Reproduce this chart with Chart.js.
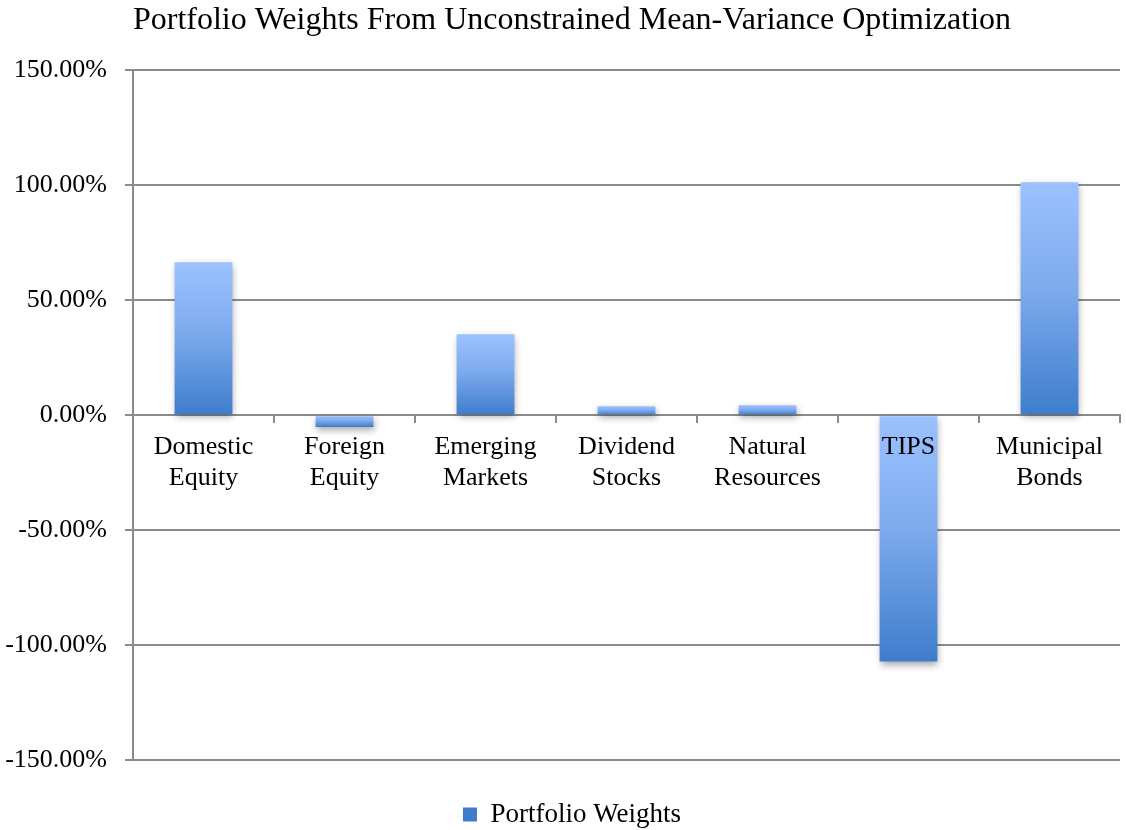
<!DOCTYPE html>
<html>
<head>
<meta charset="utf-8">
<script src="https://cdn.jsdelivr.net/npm/chart.js@4"></script>
<style>
  html, body { margin: 0; padding: 0; background: #fff; }
  #wrap { width: 1126px; height: 830px; }
</style>
</head>
<body>
<div id="wrap"><canvas id="myChart"></canvas></div>
<script>
const categories = [
  ["Domestic", "Equity"],
  ["Foreign", "Equity"],
  ["Emerging", "Markets"],
  ["Dividend", "Stocks"],
  ["Natural", "Resources"],
  ["TIPS"],
  ["Municipal", "Bonds"],
];
const weights = [0.665, -0.051, 0.352, 0.039, 0.043, -1.072, 1.013];
const seriesName = "Portfolio Weights";
const chartTitle = "Portfolio Weights From Unconstrained Mean-Variance Optimization";

const serif = "'Liberation Serif', 'Times New Roman', serif";
const gridColor = "#8b8b8b";

function barFill(context) {
  if (context.type !== "data") return "#6f9fe4";
  const chart = context.chart;
  const y = chart.scales.y;
  if (!y || !chart.chartArea) return "#6f9fe4";
  const top = y.getPixelForValue(Math.max(context.raw, 0));
  const bottom = y.getPixelForValue(Math.min(context.raw, 0));
  const g = chart.ctx.createLinearGradient(0, top, 0, bottom + 0.01);
  g.addColorStop(0, "#9cc2ff");
  g.addColorStop(0.45, "#7eabee");
  g.addColorStop(1, "#3e7dcc");
  return g;
}

// soft drop shadow under the bars, like the office chart
const barShadow = {
  id: "barShadow",
  beforeDatasetsDraw(chart) {
    const ctx = chart.ctx;
    ctx.save();
    ctx.shadowColor = "rgba(0,0,0,0.35)";
    ctx.shadowBlur = 7;
    ctx.shadowOffsetX = 1;
    ctx.shadowOffsetY = 3;
  },
  afterDatasetsDraw(chart) {
    chart.ctx.restore();
  },
};

// the y labels are wider than the padded box, so stretch the label clip to the canvas edge
const yLabelRoom = {
  id: "yLabelRoom",
  afterLayout(chart) {
    chart.scales.y.left = 0;
  },
};

const ctx = document.getElementById("myChart").getContext("2d");
const myChart = new Chart(ctx, {
  type: "bar",
  data: {
    labels: categories,
    datasets: [
      {
        label: seriesName,
        data: weights,
        backgroundColor: barFill,
        borderWidth: 0,
        categoryPercentage: 1,
        barPercentage: 0.41,
      },
    ],
  },
  options: {
    responsive: true,
    maintainAspectRatio: false,
    animation: false,
    layout: { padding: { left: 24, right: 6, top: 0, bottom: -8 } },
    plugins: {
      title: {
        display: true,
        text: chartTitle,
        color: "#000",
        font: { family: serif, size: 32, weight: "normal" },
        padding: { top: 1, bottom: 31 },
      },
      legend: {
        display: true,
        position: "bottom",
        labels: {
          color: "#000",
          font: { family: serif, size: 27 },
          boxWidth: 14,
          boxHeight: 14,
          padding: 1,
        },
      },
      tooltip: { enabled: false },
    },
    scales: {
      x: {
        position: { y: 0 },
        grid: {
          display: true,
          drawOnChartArea: false,
          drawTicks: true,
          tickLength: 7,
          color: gridColor,
          lineWidth: 2,
        },
        border: { display: true, color: gridColor, width: 2 },
        ticks: {
          z: 1,
          color: "#000",
          font: { family: serif, size: 26 },
          padding: 9,
          maxRotation: 0,
          autoSkip: false,
        },
      },
      // empty bottom axis, only keeps the gap between plot and legend
      gap: {
        type: "category",
        position: "bottom",
        grid: { display: false },
        border: { display: false },
        ticks: { display: false },
        afterFit: function (scale) {
          scale.height = 40;
        },
      },
      y: {
        min: -1.5,
        max: 1.5,
        afterFit: function (scale) {
          scale.width = 109;
        },
        grid: {
          color: gridColor,
          lineWidth: 2,
          tickLength: 8,
        },
        border: { display: true, color: gridColor, width: 2 },
        ticks: {
          stepSize: 0.5,
          color: "#000",
          padding: 18,
          font: { family: serif, size: 26 },
          callback: (v) => (v * 100).toFixed(2) + "%",
        },
      },
    },
  },
  plugins: [barShadow, yLabelRoom],
});
</script>
</body>
</html>
